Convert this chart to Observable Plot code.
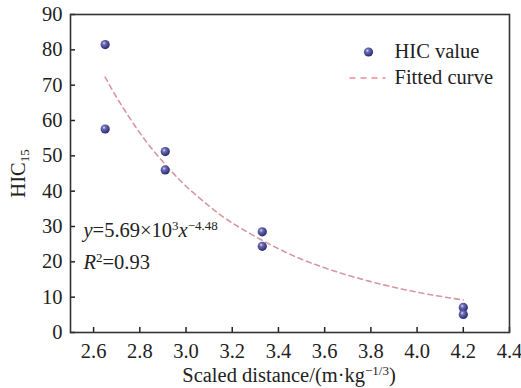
<!DOCTYPE html>
<html>
<head>
<meta charset="utf-8">
<script src="https://cdn.jsdelivr.net/npm/d3@7"></script>
<script src="https://cdn.jsdelivr.net/npm/@observablehq/plot@0.6"></script>
<style>
  html, body { margin: 0; padding: 0; background: #fff; }
  #chart { width: 521px; height: 388px; }
  #chart svg text { font-family: 'Liberation Serif', 'Times New Roman', serif; }
</style>
</head>
<body>
<div id="chart"></div>
<script>
// Measured data
const distance = [2.65, 2.65, 2.91, 2.91, 3.33, 3.33, 4.20, 4.20];
const hicValue = [81.5, 57.6, 51.2, 46.0, 28.5, 24.4, 7.1, 5.1];

// Fitted curve
const fitX = [2.65, 2.70, 2.80, 2.90, 3.00, 3.10, 3.20, 3.40, 3.60, 3.80, 4.00, 4.20];
const fitY = [72.3, 66.5, 56.5, 48.3, 41.4, 35.8, 31.0, 23.7, 18.3, 14.4, 11.4, 9.2];

// Tick labels
const xTicks = [2.6, 2.8, 3.0, 3.2, 3.4, 3.6, 3.8, 4.0, 4.2, 4.4];
const yTicks = [0, 10, 20, 30, 40, 50, 60, 70, 80, 90];

// Legend
const legendLabels = ["HIC value", "Fitted curve"];

const points = distance.map((d, i) => ({x: d, y: hicValue[i]}));
const fit = fitX.map((d, i) => ({x: d, y: fitY[i]}));

const font = "'Liberation Serif', 'Times New Roman', serif";
const fontSize = "20.5px";
const curveColor = "#d9979f";

const dashSymbol = {
  draw(context, size) {
    context.moveTo(-18, 0);
    context.lineTo(18, 0);
  }
};

const plot = Plot.plot({
  width: 521,
  height: 388,
  marginLeft: 70,
  marginRight: 12,
  marginTop: 14,
  marginBottom: 56,
  style: {fontFamily: font, fontSize: fontSize, color: "#222", background: "#fff"},
  x: {domain: [2.5, 4.4], label: null},
  y: {domain: [0, 90], label: null},
  marks: [
    Plot.axisX({ticks: xTicks, tickFormat: d => d.toFixed(1), tickSize: -5, tickPadding: 16, strokeWidth: 1.5, label: null}),
    Plot.axisY({ticks: yTicks, tickFormat: d => String(d), tickSize: -5, tickPadding: 13, strokeWidth: 1.5, label: null}),
    Plot.frame({stroke: "#333", strokeWidth: 1.6}),
    Plot.line(fit, {x: "x", y: "y", curve: "natural", stroke: curveColor, strokeWidth: 1.6, strokeDasharray: "5,4"}),
    Plot.dot(points, {x: "x", y: "y", r: 4.6, fill: "url(#sphere)", stroke: "none"}),
    // equation annotations
    Plot.text(["@eq"], {frameAnchor: "left", dx: 13, dy: 57, textAnchor: "start", lineAnchor: "middle", text: d => d, fill: "#222"}),
    Plot.text(["@r2"], {frameAnchor: "left", dx: 13, dy: 89, textAnchor: "start", lineAnchor: "middle", text: d => d, fill: "#222"}),
    // legend
    Plot.dot([legendLabels[0]], {frameAnchor: "top-right", dx: -141, dy: 37.5, r: 4.6, fill: "url(#sphere)", stroke: "none"}),
    Plot.text([legendLabels[0]], {frameAnchor: "top-right", dx: -115, dy: 37, textAnchor: "start", lineAnchor: "middle", fill: "#222"}),
    Plot.dot([legendLabels[1]], {frameAnchor: "top-right", dx: -142, dy: 63.5, symbol: dashSymbol, stroke: "#e58c98", strokeWidth: 1.6, strokeDasharray: "6,5", fill: "none", r: 4}),
    Plot.text([legendLabels[1]], {frameAnchor: "top-right", dx: -115, dy: 63, textAnchor: "start", lineAnchor: "middle", fill: "#222"}),
    // axis titles
    Plot.text(["@xtitle"], {frameAnchor: "bottom", dx: -1, dy: 43, textAnchor: "middle", lineAnchor: "middle", text: d => d, fill: "#222"}),
    Plot.text(["@ytitle"], {frameAnchor: "left", dx: -52, dy: 0, rotate: -90, textAnchor: "middle", lineAnchor: "middle", text: d => d, fill: "#222"})
  ]
});

// gradient for sphere-like dots
const svg = d3.select(plot);
const defs = svg.insert("defs", ":first-child");
const grad = defs.append("radialGradient").attr("id", "sphere").attr("cx", "38%").attr("cy", "35%").attr("r", "65%");
grad.append("stop").attr("offset", "0%").attr("stop-color", "#d9d9f2");
grad.append("stop").attr("offset", "30%").attr("stop-color", "#6b6bb5");
grad.append("stop").attr("offset", "100%").attr("stop-color", "#2a2a6e");

svg.selectAll("text").attr("font-family", font).attr("font-size", fontSize);

function rich(key, parts) {
  const t = svg.selectAll("text").filter(function() { return this.textContent === key; });
  t.text(null);
  for (const p of parts) {
    const s = t.append("tspan").text(p.t);
    if (p.i) s.attr("font-style", "italic");
    if (p.sup) s.attr("font-size", "13px").attr("baseline-shift", "7px");
    if (p.sub) s.attr("font-size", "13px").attr("baseline-shift", "-4px");
  }
}
rich("@eq", [{t: "y", i: true}, {t: "=5.69×10"}, {t: "3", sup: true}, {t: "x", i: true}, {t: "−4.48", sup: true}]);
rich("@r2", [{t: "R", i: true}, {t: "2", sup: true}, {t: "=0.93"}]);
rich("@xtitle", [{t: "Scaled distance/(m·kg"}, {t: "−1/3", sup: true}, {t: ")"}]);
rich("@ytitle", [{t: "HIC"}, {t: "15", sub: true}]);

document.getElementById("chart").appendChild(plot);
</script>
</body>
</html>
